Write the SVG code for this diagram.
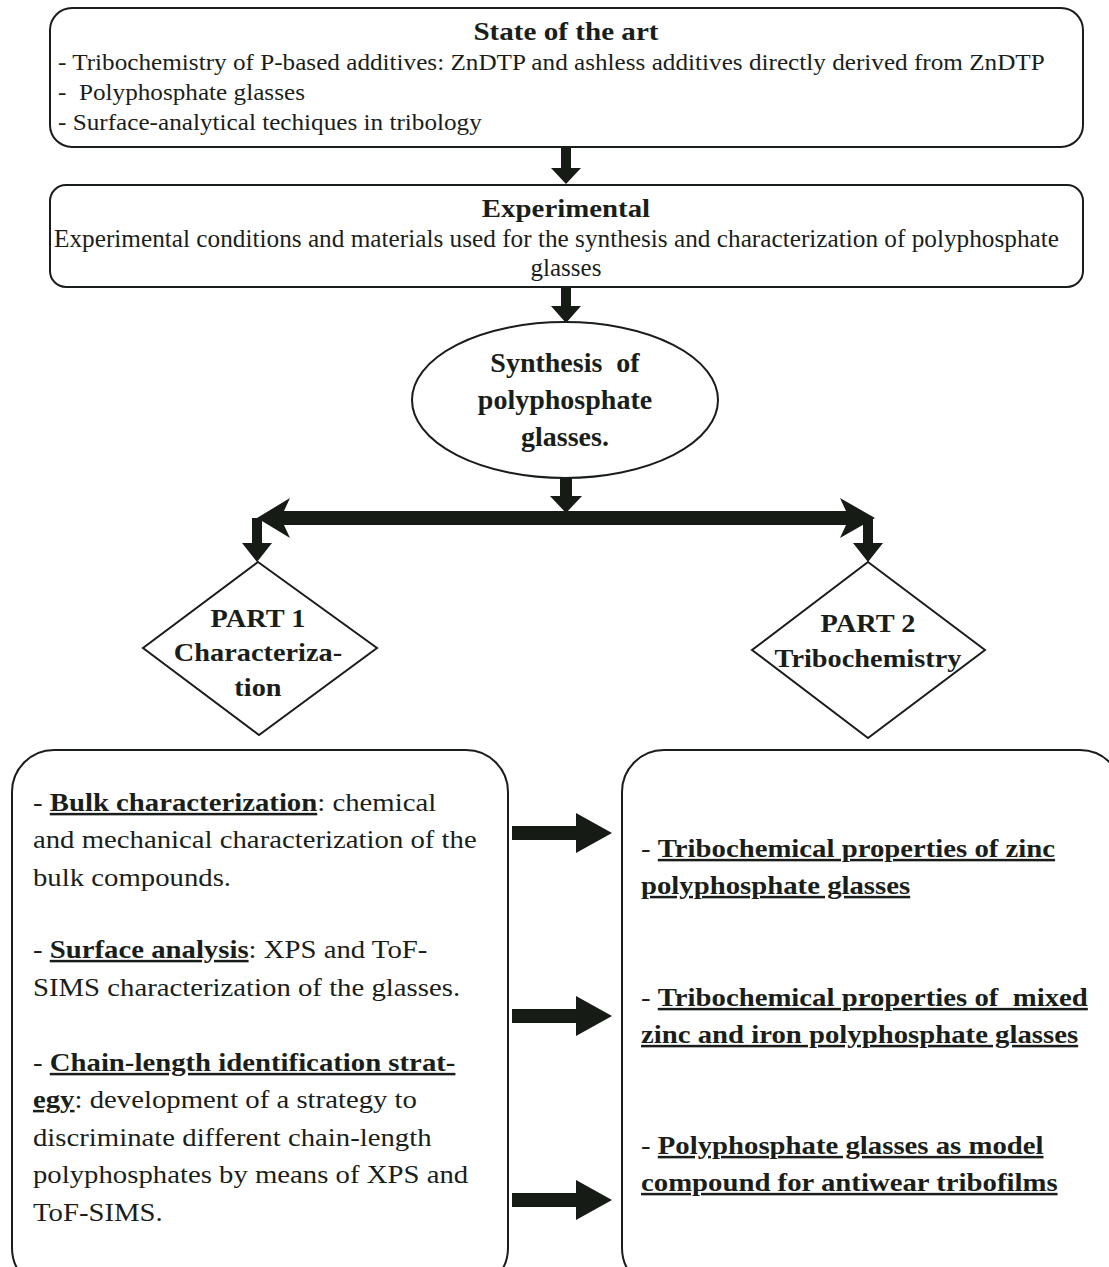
<svg xmlns="http://www.w3.org/2000/svg" width="1109" height="1267" viewBox="0 0 1109 1267">
<style>
.box{fill:#fff;stroke:#1a1e1a;stroke-width:2}
.t{font-family:"Liberation Serif","Times New Roman",serif;fill:#1a1e1a}
.b{font-weight:bold}
.u{text-decoration:underline}
.arr{fill:#161b16}
</style>
<rect width="1109" height="1267" fill="#fff"/>
<g id="connectors">
<polygon class="arr" points="561,147 571,147 571,168 581,168 566,184 551,168 561,168"/>
<polygon class="arr" points="561,287 571,287 571,306 581,306 566,323 551,306 561,306"/>
<polygon class="arr" points="560,478 572,478 572,496 582,496 566,513 550,496 560,496"/>
<polygon class="arr" points="257,518 290,498 284,511 846,511 840,498 875,518 840,538 846,525 284,525 290,538"/>
<polygon class="arr" points="252,518 262,518 262,543 272,543 257,562 242,543 252,543"/>
<polygon class="arr" points="863,518 873,518 873,543 883,543 868,562 853,543 863,543"/>
<polygon class="arr" points="512,826 576,826 576,813 612,833 576,853 576,840 512,840"/>
<polygon class="arr" points="512,1009 576,1009 576,996 612,1016 576,1036 576,1023 512,1023"/>
<polygon class="arr" points="512,1193 576,1193 576,1180 612,1200 576,1220 576,1207 512,1207"/>
</g>
<g id="state-of-art">
<rect class="box" x="50" y="8" width="1033" height="139" rx="22"/>
<text class="t b" x="566" y="40" font-size="26" text-anchor="middle" transform="matrix(1.12,0,0,1,-67.92,0)">State of the art</text>
<g class="t" font-size="22.5" transform="matrix(1.12,0,0,1,-6.96,0)">
<text x="58" y="70">- Tribochemistry of P-based additives: ZnDTP and ashless additives directly derived from ZnDTP</text>
<text x="58" y="100" xml:space="preserve">-  Polyphosphate glasses</text>
<text x="58" y="130">- Surface-analytical techiques in tribology</text>
</g>
</g>
<g id="experimental">
<rect class="box" x="50" y="185" width="1033" height="102" rx="16"/>
<text class="t b" x="566" y="217" font-size="26" text-anchor="middle" transform="matrix(1.11,0,0,1,-62.26,0)">Experimental</text>
<text class="t" x="54" y="247" font-size="25" textLength="1005" lengthAdjust="spacingAndGlyphs">Experimental conditions and materials used for the synthesis and characterization of polyphosphate</text>
<text class="t" x="566" y="276" font-size="25" text-anchor="middle">glasses</text>
</g>
<g id="synthesis">
<ellipse class="box" cx="565" cy="400" rx="153" ry="78"/>
<text class="t b" x="565" y="372" font-size="28" text-anchor="middle" xml:space="preserve">Synthesis  of</text>
<text class="t b" x="565" y="409" font-size="28" text-anchor="middle">polyphosphate</text>
<text class="t b" x="565" y="446" font-size="28" text-anchor="middle">glasses.</text>
</g>
<g id="part1">
<polygon class="box" points="258,562 377,648 259,735 143,648"/>
<g class="t b" font-size="26" text-anchor="middle" transform="matrix(1.09,0,0,1,-23.22,0)">
<text x="258" y="627">PART 1</text>
<text x="258" y="661">Characteriza-</text>
<text x="258" y="696">tion</text>
</g>
</g>
<g id="part2">
<polygon class="box" points="868,562 985,650 868,738 752,650"/>
<g class="t b" font-size="26" text-anchor="middle" transform="matrix(1.09,0,0,1,-78.12,0)">
<text x="868" y="632">PART 2</text>
<text x="868" y="667">Tribochemistry</text>
</g>
</g>
<g id="characterization-box">
<rect class="box" x="12" y="750" width="496" height="540" rx="42"/>
<g class="t" font-size="25" transform="matrix(1.15,0,0,1,-4.95,0)">
<text x="33" y="811">- <tspan class="b u">Bulk characterization</tspan>: chemical</text>
<text x="33" y="848">and mechanical characterization of the</text>
<text x="33" y="886">bulk compounds.</text>
<text x="33" y="958">- <tspan class="b u">Surface analysis</tspan>: XPS and ToF-</text>
<text x="33" y="996">SIMS characterization of the glasses.</text>
<text x="33" y="1071">- <tspan class="b u">Chain-length identification strat-</tspan></text>
<text x="33" y="1108"><tspan class="b u">egy</tspan>: development of a strategy to</text>
<text x="33" y="1146">discriminate different chain-length</text>
<text x="33" y="1183">polyphosphates by means of XPS and</text>
<text x="33" y="1221">ToF-SIMS.</text>
</g>
</g>
<g id="tribochemistry-box">
<rect class="box" x="622" y="750" width="500" height="540" rx="42"/>
<g class="t" font-size="25" transform="matrix(1.15,0,0,1,-96.15,0)">
<text x="641" y="857">- <tspan class="b u">Tribochemical properties of zinc</tspan></text>
<text x="641" y="894"><tspan class="b u">polyphosphate glasses</tspan></text>
<text x="641" y="1006" xml:space="preserve">- <tspan class="b u">Tribochemical properties of  mixed</tspan></text>
<text x="641" y="1043"><tspan class="b u">zinc and iron polyphosphate glasses</tspan></text>
<text x="641" y="1154">- <tspan class="b u">Polyphosphate glasses as model</tspan></text>
<text x="641" y="1191"><tspan class="b u">compound for antiwear tribofilms</tspan></text>
</g>
</g>
</svg>
